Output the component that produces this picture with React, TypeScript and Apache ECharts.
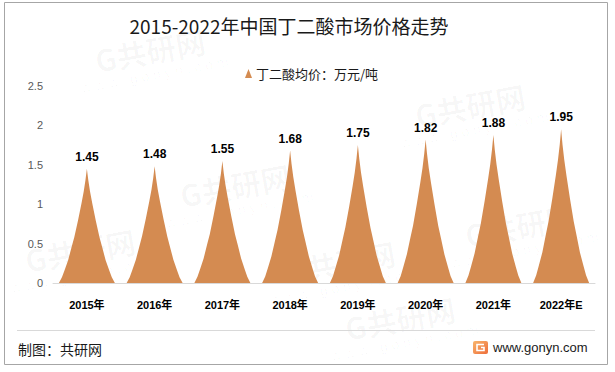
import React, { useEffect, useRef } from "react";
import * as echarts from "echarts";

const categories = ["2015年", "2016年", "2017年", "2018年", "2019年", "2020年", "2021年", "2022年E"];
const prices = [1.45, 1.48, 1.55, 1.68, 1.75, 1.82, 1.88, 1.95];
const seriesName = "丁二酸均价：万元/吨";
const titleText = "2015-2022年中国丁二酸市场价格走势";
const sourceText = "制图：共研网";
const siteText = "www.gonyn.com";

const SPIKE =
  "path://M0,100 L5.5,95 L10,89 L16.5,80 L22.5,69 L27.5,60 L34.25,45 L40.5,30 L44.35,20 L47.5,10 L50,0 " +
  "L52.5,10 L55.65,20 L59.5,30 L65.75,45 L72.5,60 L77.5,69 L83.5,80 L90,89 L94.5,95 L100,100 Z";

const CJK = "'Microsoft YaHei', 'Noto Sans CJK SC', sans-serif";
const MIX = "'Liberation Sans', Arial, 'Noto Sans CJK SC', sans-serif";

const watermarkSpots = [
  [150, 50],
  [470, 105],
  [235, 185],
  [520, 225],
  [80, 250],
  [340, 262],
  [400, 318],
];

export default function App() {
  const ref = useRef<HTMLDivElement>(null);
  useEffect(() => {
    if (!ref.current) return;
    const chart = echarts.init(ref.current, null, { renderer: "svg" });

    const watermarks: any[] = [];
    watermarkSpots.forEach(([x, y]) => {
      watermarks.push({
        type: "group",
        x,
        y,
        rotation: 0.18,
        silent: true,
        z: -10,
        children: [
          {
            type: "text",
            x: 0,
            y: 0,
            style: {
              text: "G共研网",
              fill: "rgba(0,0,0,0.03)",
              font: `bold 30px ${CJK}`,
              align: "center",
              verticalAlign: "middle",
            },
          },
          {
            type: "text",
            x: 0,
            y: 25,
            style: {
              text: "w w w . g o n y n . c o m",
              fill: "rgba(0,0,0,0.03)",
              font: `14px ${MIX}`,
              align: "center",
              verticalAlign: "middle",
            },
          },
        ],
      });
    });

    chart.setOption({
      animation: false,
      backgroundColor: "#ffffff",
      title: {
        text: titleText,
        left: 284,
        top: 11,
        textAlign: "center",
        textStyle: { fontFamily: CJK, fontSize: 19, fontWeight: "normal", color: "#1a1a1a" },
      },
      legend: {
        left: 240,
        top: 62,
        icon: "triangle",
        itemWidth: 7,
        itemHeight: 9,
        itemGap: 6,
        textStyle: { fontFamily: CJK, fontSize: 13, color: "#1a1a1a", padding: [0, 0, 0, -1] },
        data: [seriesName],
      },
      grid: { left: 53, right: 20, top: 86, bottom: 89, containLabel: false },
      xAxis: {
        type: "category",
        data: categories,
        axisLine: { show: true, lineStyle: { color: "#d9d9d9", width: 1 } },
        axisTick: { show: false },
        axisLabel: { fontFamily: MIX, fontSize: 11, fontWeight: "bold", color: "#000000", margin: 16 },
      },
      yAxis: {
        type: "value",
        min: 0,
        max: 2.5,
        interval: 0.5,
        splitLine: { show: false },
        axisLine: { show: false },
        axisTick: { show: false },
        axisLabel: { fontFamily: MIX, fontSize: 11, color: "#595959", margin: 10 },
      },
      series: [
        {
          name: seriesName,
          type: "pictorialBar",
          data: prices,
          symbol: SPIKE,
          barWidth: 56,
          symbolSize: ["100%", "100%"],
          itemStyle: { color: "#D48B51" },
          label: {
            show: true,
            position: "top",
            distance: 6,
            fontFamily: MIX,
            fontSize: 12,
            fontWeight: "bold",
            color: "#000000",
            formatter: (p: any) => p.value.toFixed(2),
          },
        },
      ],
      graphic: [
        ...watermarks,
        {
          type: "rect",
          silent: true,
          shape: { x: 4.5, y: 2.5, width: 603, height: 362 },
          style: { fill: "none", stroke: "#a6a6a6", lineWidth: 1 },
        },
        {
          type: "line",
          silent: true,
          shape: { x1: 17, y1: 330.5, x2: 595, y2: 330.5 },
          style: { stroke: "#d9d9d9", lineWidth: 1 },
        },
        {
          type: "text",
          x: 18,
          y: 349,
          style: { text: sourceText, font: `14px ${CJK}`, fill: "#1a1a1a", verticalAlign: "middle" },
        },
        {
          type: "group",
          x: 473,
          y: 341,
          children: [
            {
              type: "rect",
              shape: { x: 0, y: 0, width: 15, height: 13, r: 2 },
              style: {
                fill: new echarts.graphic.LinearGradient(0, 0, 1, 1, [
                  { offset: 0, color: "#f8b56c" },
                  { offset: 1, color: "#ee6d3a" },
                ]),
              },
            },
            {
              type: "polyline",
              shape: { points: [[11, 3.5], [4, 3.5], [4, 9.5], [11, 9.5], [11, 6.5], [8, 6.5]] },
              style: { stroke: "#ffffff", lineWidth: 1.6, fill: "none" },
            },
          ],
        },
        {
          type: "text",
          x: 493,
          y: 347,
          style: { text: siteText, font: `13px ${MIX}`, fill: "#1a1a1a", verticalAlign: "middle" },
        },
      ],
    });
    return () => chart.dispose();
  }, []);
  return (
    <div
      ref={ref}
      style={{ position: "absolute", left: 0, top: 0, width: 615, height: 372 }}
    />
  );
}
